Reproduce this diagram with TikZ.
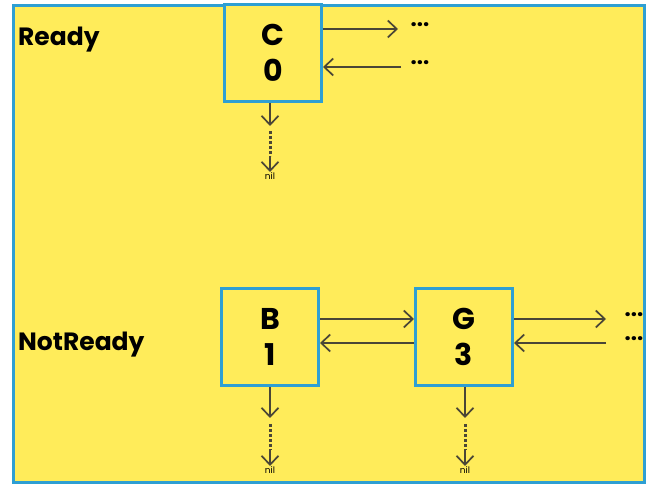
\documentclass[tikz,border=0pt]{standalone}
\usepackage{fontspec}
\setmainfont{Poppins}
\usetikzlibrary{arrows.meta}
\definecolor{bgyellow}{HTML}{FFEC5A}
\definecolor{boxblue}{HTML}{2E9FD3}
\definecolor{arrowgray}{HTML}{4A4636}
\tikzset{
  x=1pt,y=-1pt,
  rec/.style={draw=boxblue,line width=3pt,fill=bgyellow,minimum width=97pt,minimum height=97pt,inner sep=0pt,align=center,font=\bfseries\fontsize{30}{36}\selectfont},
  lbl/.style={anchor=west,inner sep=0pt,font=\bfseries\fontsize{25}{28}\selectfont},
  conn/.style={draw=arrowgray,line width=1.7pt,-{Straight Barb[length=9pt,width=17pt,line width=1.7pt]}},
  dotline/.style={draw=arrowgray,line width=3pt,dash pattern=on 3pt off 2pt},
  ell/.style={inner sep=0pt,font=\bfseries\fontsize{22}{22}\selectfont},
  niltxt/.style={inner sep=0pt,font=\fontsize{9}{9}\selectfont,anchor=north}
}
\begin{document}
\begin{tikzpicture}
\useasboundingbox (0,0) rectangle (649,486);
\fill[white] (0,0) rectangle (649,486);
\draw[draw=boxblue,line width=3pt,fill=bgyellow] (13,6) rectangle (644,483);
% labels
\node[lbl] (ready) at (18,40) {Ready};
\node[lbl] (notready) at (18,345) {NotReady};
% boxes
\node[rec] (C) at (273,53) {C\\0};
\node[rec] (B) at (270,337) {B\\1};
\node[rec] (G) at (464,337) {G\\3};
% ellipsis nodes
\node[ell] (c1) at (420,25) {...};
\node[ell] (c2) at (420,63) {...};
\node[ell] (g1) at (634,315) {...};
\node[ell] (g2) at (634,339) {...};
% row coordinates
\coordinate (r1) at (0,319);
\coordinate (r2) at (0,343);
\coordinate (t1) at (0,29);
\coordinate (t2) at (0,67);
\coordinate (eC1) at (398,29);
\coordinate (eC2) at (401,67);
\coordinate (eG1) at (606,319);
\coordinate (eG2) at (606,343);
% horizontal arrows
\draw[conn] (C.east |- t1) -- (eC1);
\draw[conn] (eC2) -- (C.east |- t2);
\draw[conn] (B.east |- r1) -- (G.west |- r1);
\draw[conn] (G.west |- r2) -- (B.east |- r2);
\draw[conn] (G.east |- r1) -- (eG1);
\draw[conn] (eG2) -- (G.east |- r2);
% down chains
\node[niltxt] (nilC) at (270,172) {nil};
\node[niltxt] (nilB) at (270,466) {nil};
\node[niltxt] (nilG) at (465,466) {nil};
\coordinate (cC1) at (270,126);
\coordinate (cC2) at (270,131);
\coordinate (cC3) at (270,156);
\draw[conn] (C.south -| cC1) -- (cC1);
\draw[dotline] (cC2) -- (cC3);
\draw[conn] (cC3) -- (nilC.north);
\coordinate (cB1) at (270,418);
\coordinate (cB2) at (270,424);
\coordinate (cB3) at (270,450);
\draw[conn] (B.south -| cB1) -- (cB1);
\draw[dotline] (cB2) -- (cB3);
\draw[conn] (cB3) -- (nilB.north);
\coordinate (cG1) at (465,418);
\coordinate (cG2) at (465,424);
\coordinate (cG3) at (465,450);
\draw[conn] (G.south -| cG1) -- (cG1);
\draw[dotline] (cG2) -- (cG3);
\draw[conn] (cG3) -- (nilG.north);
\end{tikzpicture}
\end{document}
